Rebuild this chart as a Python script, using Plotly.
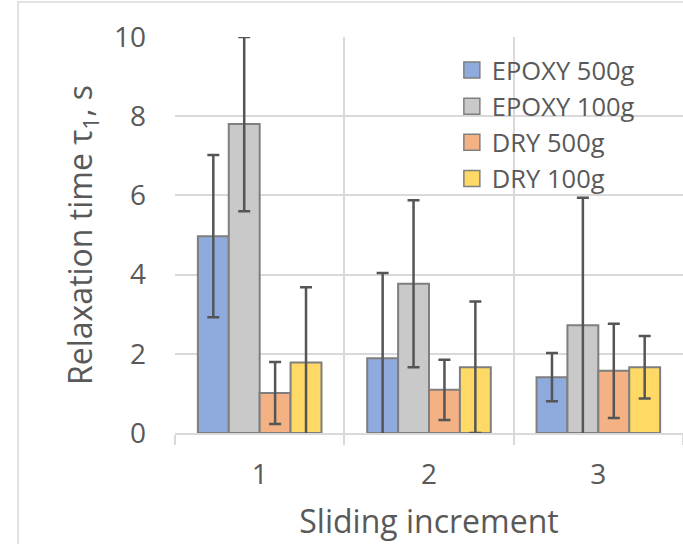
import plotly.graph_objects as go

categories = ["1", "2", "3"]
series_names = ["EPOXY 500g", "EPOXY 100g", "DRY 500g", "DRY 100g"]
epoxy500 = [4.97, 1.89, 1.41]
epoxy500_err = [2.05, 2.15, 0.61]
epoxy100 = [7.80, 3.77, 2.72]
epoxy100_err = [2.20, 2.11, 3.22]
dry500 = [1.01, 1.09, 1.57]
dry500_err = [0.78, 0.76, 1.19]
dry100 = [1.78, 1.66, 1.66]
dry100_err = [1.90, 1.66, 0.79]
y_ticks = [0, 2, 4, 6, 8, 10]

colors = ["#8faadc", "#c9c9c9", "#f4b183", "#ffd966"]
values = [epoxy500, epoxy100, dry500, dry100]
errors = [epoxy500_err, epoxy100_err, dry500_err, dry100_err]

TEXT = "#595959"
GRID = "#d9d9d9"
FONT = "Open Sans"

fig = go.Figure()
for name, v, e, c in zip(series_names, values, errors, colors):
    fig.add_trace(go.Bar(
        x=categories, y=v, name=name, showlegend=False,
        marker=dict(color=c, line=dict(color="#7f7f7f", width=2)),
        error_y=dict(type="data", array=e, visible=True, color="#555555",
                     thickness=2.5, width=6),
    ))
# legend entries
for name, c in zip(series_names, colors):
    fig.add_trace(go.Scatter(
        x=[None], y=[None], mode="markers", name=name,
        marker=dict(symbol="square", size=16, color=c,
                    line=dict(color="#7f7f7f", width=1.5)),
    ))

L, R, T, B = 175, 0, 37, 111
fig.update_layout(
    width=683, height=544,
    margin=dict(l=L, r=R, t=T, b=B, pad=0),
    paper_bgcolor="white", plot_bgcolor="white",
    barmode="group", bargap=0.27, bargroupgap=0,
    font=dict(family=FONT, color=TEXT, size=26),
    legend=dict(x=0.545, y=0.975, xanchor="left", yanchor="top",
                bgcolor="rgba(0,0,0,0)", font=dict(size=25.5, color=TEXT),
                itemsizing="trace", tracegroupgap=0),
    xaxis=dict(
        type="category", tickson="boundaries", showgrid=True,
        gridcolor=GRID, gridwidth=1.5,
        ticks="outside", ticklen=10, tickcolor=GRID, tickwidth=1.5,
        showline=True, linecolor=GRID, linewidth=1.5,
        tickfont=dict(size=28, color=TEXT), ticklabelstandoff=16,
        title=dict(text="Sliding increment", font=dict(size=32, color=TEXT), standoff=19),
        automargin=False,
    ),
    yaxis=dict(
        range=[0, 10], tickvals=y_ticks, showgrid=True,
        gridcolor=GRID, gridwidth=1.5, zeroline=False,
        showline=False, ticks="",
        tickfont=dict(size=28, color=TEXT), ticklabelstandoff=28,
        title=dict(text="Relaxation time τ<sub>1</sub>, s",
                   font=dict(size=32, color=TEXT), standoff=11),
        automargin=False,
    ),
)

# chart border (decoration)
W_plot = 683 - L - R
H_plot = 544 - T - B
fig.add_shape(type="rect", xref="paper", yref="paper",
              x0=(18 - L) / W_plot, x1=(700 - L) / W_plot,
              y0=(433 - 560) / H_plot, y1=(433 - 2) / H_plot,
              line=dict(color=GRID, width=1.5), fillcolor="rgba(0,0,0,0)",
              layer="below")

fig.write_html("out.html")
